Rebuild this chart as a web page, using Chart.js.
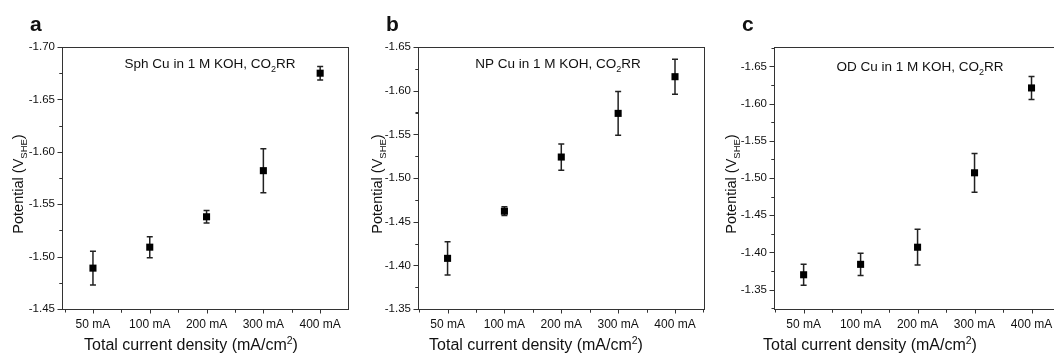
<!DOCTYPE html>
<html>
<head>
<meta charset="utf-8">
<script src="https://cdn.jsdelivr.net/npm/chart.js@4.4.0/dist/chart.umd.min.js"></script>
<style>
  html, body { margin: 0; padding: 0; background: #fff; overflow: hidden; }
  #wrap { position: relative; width: 1054px; height: 361px; overflow: hidden; }
  canvas { position: absolute; top: 0; }
</style>
</head>
<body>
<div id="wrap">
  <canvas id="chart-a" width="353" height="361" style="left:0px"></canvas>
  <canvas id="chart-b" width="356" height="361" style="left:353px"></canvas>
  <canvas id="chart-c" width="356" height="361" style="left:709px"></canvas>
</div>
<script>
// categories (x axis)
const categories = ['50 mA', '100 mA', '200 mA', '300 mA', '400 mA'];

// Sph Cu potentials and error bars (V vs SHE)
const sphCu = [-1.489, -1.509, -1.538, -1.582, -1.675];
const sphErr = [0.016, 0.010, 0.006, 0.021, 0.0065];

// NP Cu
const npCu = [-1.408, -1.462, -1.524, -1.574, -1.616];
const npErr = [0.019, 0.005, 0.015, 0.025, 0.020];

// OD Cu
const odCu = [-1.370, -1.384, -1.407, -1.507, -1.621];
const odErr = [0.014, 0.015, 0.024, 0.026, 0.0155];

// y tick labels for each panel
const yTicksA = [-1.70, -1.65, -1.60, -1.55, -1.50, -1.45];
const yTicksB = [-1.65, -1.60, -1.55, -1.50, -1.45, -1.40, -1.35];
const yTicksC = [-1.65, -1.60, -1.55, -1.50, -1.45, -1.40, -1.35];

const FONT = "'Liberation Sans', Arial, sans-serif";
const INK = '#111';

// text with a sub/superscript part, pieces = [[text, shift], ...]
function pieceWidth(ctx, pieces, size, subSize) {
  let w = 0;
  pieces.forEach(function (p) {
    ctx.font = (p[1] ? subSize : size) + 'px ' + FONT;
    w += ctx.measureText(p[0]).width;
  });
  return w;
}
function drawPieces(ctx, pieces, x, y, size, subSize) {
  let cx = x;
  pieces.forEach(function (p) {
    ctx.font = (p[1] ? subSize : size) + 'px ' + FONT;
    ctx.fillText(p[0], cx, y + p[1] * size);
    cx += ctx.measureText(p[0]).width;
  });
}

function makePanel(id, opts) {
  const ctx = document.getElementById(id).getContext('2d');

  const panelPlugin = {
    id: 'panel-' + id,
    beforeDatasetsDraw(chart) {
      // error bars
      const c = chart.ctx;
      const xs = chart.scales.x, ys = chart.scales.y;
      c.save();
      c.strokeStyle = '#222';
      c.lineWidth = 1.5;
      opts.values.forEach(function (v, i) {
        const px = xs.getPixelForValue(i + 1);
        const top = ys.getPixelForValue(v - opts.errors[i]);
        const bot = ys.getPixelForValue(v + opts.errors[i]);
        c.beginPath();
        c.moveTo(px, top); c.lineTo(px, bot);
        c.moveTo(px - 3, top); c.lineTo(px + 3, top);
        c.moveTo(px - 3, bot); c.lineTo(px + 3, bot);
        c.stroke();
      });
      c.restore();
    },
    afterDraw(chart) {
      const c = chart.ctx;
      const a = chart.chartArea;
      const xs = chart.scales.x, ys = chart.scales.y;
      c.save();
      // frame
      c.strokeStyle = '#333';
      c.lineWidth = 1;
      c.strokeRect(Math.round(a.left) + 0.5, Math.round(a.top) + 0.5,
        Math.round(a.right - a.left), Math.round(a.bottom - a.top));

      // y ticks (major + minor, outward)
      c.beginPath();
      const L = Math.round(a.left) + 0.5;
      opts.yTicks.forEach(function (t) {
        const py = Math.round(ys.getPixelForValue(t)) + 0.5;
        c.moveTo(L, py); c.lineTo(L - 5, py);
        [t - 0.025, t + 0.025].forEach(function (m) {
          if (m > ys.min && m < ys.max) {
            const my = Math.round(ys.getPixelForValue(m)) + 0.5;
            c.moveTo(L, my); c.lineTo(L - 3, my);
          }
        });
      });
      // x ticks
      const B = Math.round(a.bottom) + 0.5;
      categories.forEach(function (cat, i) {
        const px = Math.round(xs.getPixelForValue(i + 1)) + 0.5;
        c.moveTo(px, B); c.lineTo(px, B + 4);
        [i + 0.5, i + 1.5].forEach(function (m) {
          if (m > xs.min && m < xs.max) {
            const mx = Math.round(xs.getPixelForValue(m)) + 0.5;
            c.moveTo(mx, B); c.lineTo(mx, B + 3);
          }
        });
      });
      c.stroke();

      c.fillStyle = INK;
      c.textBaseline = 'alphabetic';
      c.textAlign = 'left';
      // panel letter
      c.font = 'bold 21px ' + FONT;
      c.fillText(opts.letter, opts.letterX, 31);

      // annotation
      const ann = [[opts.name + ' in 1 M KOH, CO', 0], ['2', 0.3], ['RR', 0]];
      const aw = pieceWidth(c, ann, 13.5, 9);
      drawPieces(c, ann, opts.annX - aw / 2, opts.annY, 13.5, 9);

      // x title
      const xt = [['Total current density (mA/cm', 0], ['2', -0.38], [')', 0]];
      const xw = pieceWidth(c, xt, 16, 10.5);
      drawPieces(c, xt, opts.xTitleX - xw / 2, 350, 16, 10.5);

      // y title (rotated)
      c.translate(opts.yTitleX, (a.top + a.bottom) / 2 + 6);
      c.rotate(-Math.PI / 2);
      const yt = [['Potential (V', 0], ['SHE', 0.3], [')', 0]];
      const yw = pieceWidth(c, yt, 14.5, 9.5);
      drawPieces(c, yt, -yw / 2, 5, 14.5, 9.5);
      c.restore();
    },
  };

  return new Chart(ctx, {
    type: 'scatter',
    data: {
      datasets: [{
        data: opts.values.map(function (v, i) { return { x: i + 1, y: v }; }),
        pointStyle: 'rect',
        pointRadius: 5,
        backgroundColor: '#000',
        borderColor: '#000',
        borderWidth: 0,
      }],
    },
    options: {
      responsive: false,
      animation: false,
      layout: { padding: { top: 47, right: opts.padRight, left: 0, bottom: 0 } },
      plugins: { legend: { display: false }, tooltip: { enabled: false } },
      scales: {
        x: {
          type: 'linear',
          min: opts.xMin,
          max: opts.xMax,
          grid: { display: false, drawTicks: false },
          border: { display: false },
          afterBuildTicks: function (scale) {
            scale.ticks = categories.map(function (c, i) { return { value: i + 1 }; });
          },
          afterFit: function (scale) { scale.height = 52; },
          ticks: {
            padding: 8,
            color: INK,
            font: { family: FONT, size: 12 },
            maxRotation: 0,
            autoSkip: false,
            callback: function (v) { return categories[v - 1]; },
          },
        },
        y: {
          reverse: true,
          min: opts.yMin,
          max: opts.yMax,
          grid: { display: false, drawTicks: false },
          border: { display: false },
          afterBuildTicks: function (scale) {
            scale.ticks = opts.yTicks.map(function (v) { return { value: v }; });
          },
          afterFit: function (scale) { scale.width = opts.yWidth; },
          ticks: {
            padding: 7,
            color: INK,
            font: { family: FONT, size: 11.5 },
            callback: function (v) { return v.toFixed(2); },
          },
        },
      },
    },
    plugins: [panelPlugin],
  });
}

makePanel('chart-a', {
  values: sphCu, errors: sphErr, yTicks: yTicksA,
  yMin: -1.70, yMax: -1.45, xMin: 0.455, xMax: 5.49,
  yWidth: 62, padRight: 2,
  letter: 'a', letterX: 30, name: 'Sph Cu', annX: 210, annY: 68,
  xTitleX: 191, yTitleX: 18,
});
makePanel('chart-b', {
  values: npCu, errors: npErr, yTicks: yTicksB,
  yMin: -1.65, yMax: -1.35, xMin: 0.48, xMax: 5.51,
  yWidth: 65, padRight: 2,
  letter: 'b', letterX: 33, name: 'NP Cu', annX: 205, annY: 68,
  xTitleX: 183, yTitleX: 24,
});
makePanel('chart-c', {
  values: odCu, errors: odErr, yTicks: yTicksC,
  yMin: -1.676, yMax: -1.324, xMin: 0.48, xMax: 5.5,
  yWidth: 65, padRight: 3,
  letter: 'c', letterX: 33, name: 'OD Cu', annX: 211, annY: 71,
  xTitleX: 161, yTitleX: 22,
});
</script>
</body>
</html>
